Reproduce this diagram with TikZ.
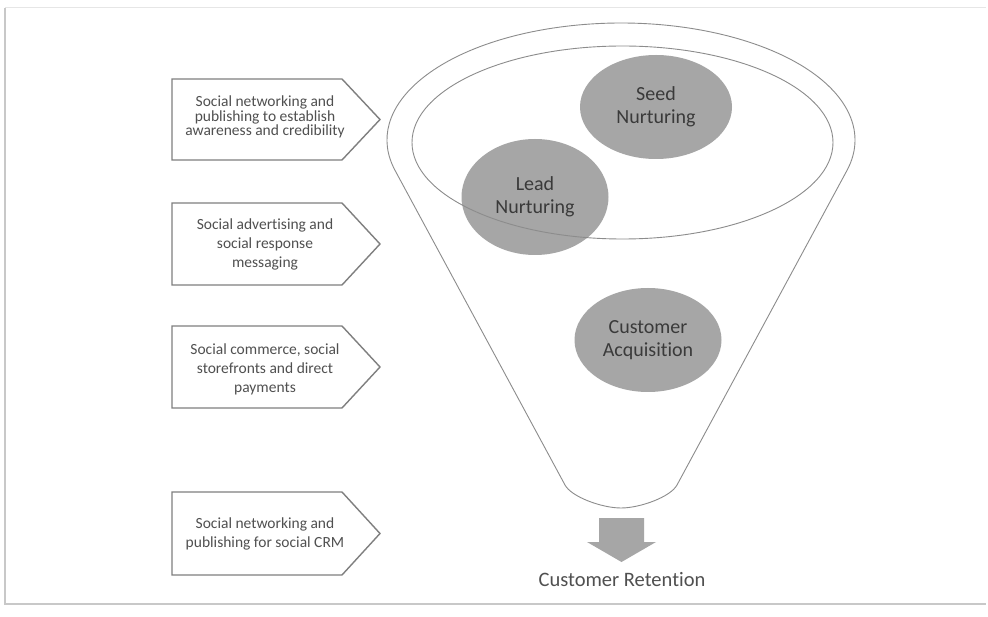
\documentclass[tikz,border=0pt]{standalone}
\usepackage{fontspec}
\setmainfont{Carlito}[Ligatures=NoCommon]
\usetikzlibrary{shapes.geometric}
\definecolor{boxline}{HTML}{7F7F7F}
\definecolor{boxtext}{HTML}{505050}
\definecolor{blob}{HTML}{A6A6A6}
\definecolor{blobtext}{HTML}{3A3A3A}
\definecolor{funnelcol}{HTML}{8C8C8C}
\definecolor{framecol}{HTML}{C8C8C8}
\definecolor{framelight}{HTML}{E6E6E6}
\begin{document}
\begin{tikzpicture}[x=1pt,y=-1pt,
  boxtxt/.style={align=center, text=boxtext, font=\fontsize{15.5}{19}\selectfont, inner sep=0pt},
  pentagon/.style={draw=boxline, line width=1.4pt, fill=white, line join=miter},
  blobstyle/.style={ellipse, fill=blob, text=blobtext, align=center, font=\fontsize{20}{23}\selectfont, inner sep=0pt},
  funnelline/.style={draw=funnelcol, line width=0.9pt}]
\useasboundingbox (0,0) rectangle (988,617);
\fill[white] (0,0) rectangle (988,617);
% frame
\draw[framelight, line width=1pt] (5,8) -- (986,8);
\draw[framecol, line width=1.2pt] (5,8) -- (5,604) -- (986,604);

% pentagons
\draw[pentagon] (172,79) -- (342,79) -- (380,119.5) -- (342,160) -- (172,160) -- cycle;
\draw[pentagon] (172,203) -- (342,203) -- (380,244) -- (342,285) -- (172,285) -- cycle;
\draw[pentagon] (172,326) -- (342,326) -- (380,367) -- (342,408) -- (172,408) -- cycle;
\draw[pentagon] (172,492) -- (342,492) -- (380,533.5) -- (342,575) -- (172,575) -- cycle;
\node[boxtxt, font=\fontsize{15.5}{14.2}\selectfont] (box1) at (265,117) {Social networking and\\publishing to establish\\awareness and credibility};
\node[boxtxt] (box2) at (265,244) {Social advertising and\\social response\\messaging};
\node[boxtxt] (box3) at (265,369) {Social commerce, social\\storefronts and direct\\payments};
\node[boxtxt] (box4) at (265,533.5) {Social networking and\\publishing for social CRM};

% blobs
\node[blobstyle, minimum width=152, minimum height=104] (seed) at (656,107) {Seed\\Nurturing};
\node[blobstyle, minimum width=147, minimum height=116] (lead) at (535,197) {Lead\\Nurturing};
\node[blobstyle, minimum width=147, minimum height=104] (acq) at (648,340) {Customer\\Acquisition};

% inner ellipse
\draw[funnelline] (622.5,142.5) ellipse [x radius=210.5, y radius=96.5];

% funnel outline
\draw[funnelline] (395.1,170.5) arc[start angle=164.9, end angle=375.1, x radius=234, y radius=117]
  -- (677,485) .. controls (670.5,497) and (640,508) .. (621,508)
  .. controls (602,508) and (571.5,497) .. (565,485) -- cycle;

% arrow
\fill[blob] (599,518) -- (644,518) -- (644,542) -- (656,542) -- (621.5,562) -- (587,542) -- (599,542) -- cycle;
\node[text=boxtext, font=\fontsize{20.5}{24}\selectfont, inner sep=0pt] (ret) at (622,580) {Customer Retention};
\end{tikzpicture}
\end{document}
